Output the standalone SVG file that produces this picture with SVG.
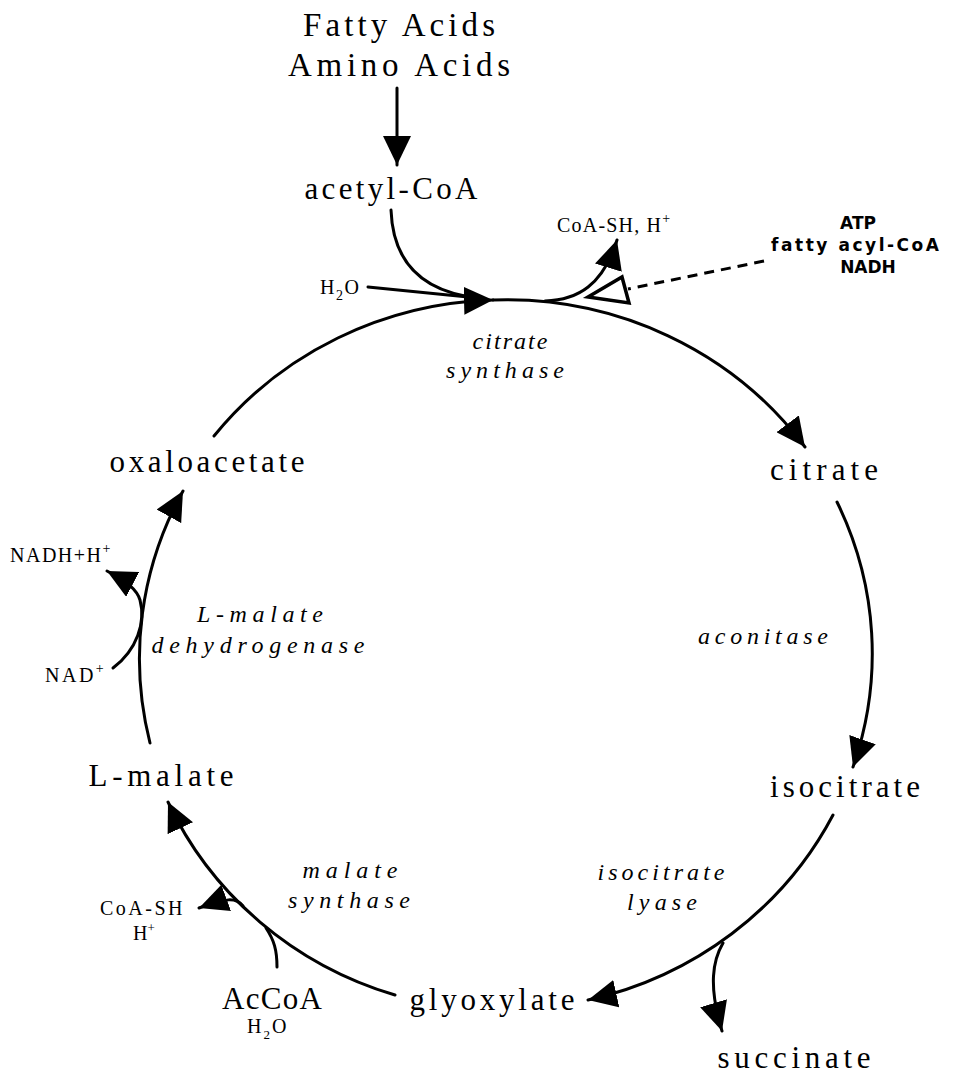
<svg xmlns="http://www.w3.org/2000/svg" width="969" height="1077" viewBox="0 0 969 1077">
  <style>
    .line { fill: none; stroke: #000; stroke-width: 3; stroke-linecap: round; }
    .dash { fill: none; stroke: #000; stroke-width: 3; stroke-dasharray: 10 7; }
    .main { font-family: "Liberation Serif", "Times New Roman", serif; font-size: 31px; fill: #000; text-anchor: middle; }
    .top { font-family: "Liberation Serif", "Times New Roman", serif; font-size: 33px; fill: #000; text-anchor: middle; }
    .enz { font-family: "Liberation Serif", "Times New Roman", serif; font-size: 24px; font-style: italic; fill: #000; text-anchor: middle; }
    .small { font-family: "Liberation Serif", "Times New Roman", serif; font-size: 20px; fill: #000; }
    .reg { font-family: "DejaVu Sans", "Liberation Sans", sans-serif; font-size: 17px; font-weight: bold; fill: #000; text-anchor: middle; }
  </style>
  <defs>
    <marker id="head" markerUnits="userSpaceOnUse" markerWidth="32" markerHeight="28" refX="29" refY="14" orient="auto">
      <path d="M0,0 L29,14 L0,28 z" fill="#000"/>
    </marker>
  </defs>

  <rect width="969" height="1077" fill="#fff"/>

  <!-- connectors -->
  <g id="connectors">
    <!-- feed into acetyl-CoA -->
    <path class="line" d="M397,88 L397,165" marker-end="url(#head)"/>
    <!-- acetyl-CoA and water join the condensation -->
    <path class="line" d="M391,210 C393,265 425,292 478,298"/>
    <path class="line" d="M368,287 L478,298"/>
    <!-- oxaloacetate -> citrate synthase -->
    <path class="line" d="M214,436 A368,355 0 0 1 493,300" marker-end="url(#head)"/>
    <!-- citrate synthase -> citrate -->
    <path class="line" d="M493,300 A368,355 0 0 1 805,447" marker-end="url(#head)"/>
    <!-- CoA-SH, H+ released -->
    <path class="line" d="M545,301 C578,300 603,285 617,240" marker-end="url(#head)"/>
    <!-- allosteric inhibitors (dashed, open head) -->
    <path class="dash" d="M764,261 L628,289"/>
    <polygon points="588,297 622,277 629,303" fill="#fff" stroke="#000" stroke-width="3.5" stroke-linejoin="miter"/>
    <!-- citrate -> isocitrate -->
    <path class="line" d="M837,502 A368,355 0 0 1 853,767" marker-end="url(#head)"/>
    <!-- isocitrate -> glyoxylate -->
    <path class="line" d="M833,815 A368,355 0 0 1 588,1000" marker-end="url(#head)"/>
    <!-- isocitrate lyase -> succinate -->
    <path class="line" d="M723,943 C713,960 708,985 722,1031" marker-end="url(#head)"/>
    <!-- glyoxylate -> L-malate -->
    <path class="line" d="M395,995 A368,355 0 0 1 168,802" marker-end="url(#head)"/>
    <!-- malate synthase side reactions -->
    <path class="line" d="M243,906 C236,897 226,898 199,908" marker-end="url(#head)"/>
    <path class="line" d="M277,967 C277,950 274,940 266,928"/>
    <!-- L-malate -> oxaloacetate -->
    <path class="line" d="M150,743 A368,355 0 0 1 183,491" marker-end="url(#head)"/>
    <!-- NAD+ -> NADH+H+ -->
    <path class="line" d="M113,668 C137,650 146,622 140,600 C137,590 128,582 107,571" marker-end="url(#head)"/>
  </g>

  <!-- nodes -->
  <g id="fatty-amino">
    <text class="top" x="399" y="36" textLength="192" lengthAdjust="spacing">Fatty Acids</text>
    <text class="top" x="399" y="76" textLength="222" lengthAdjust="spacing">Amino Acids</text>
  </g>
  <g id="acetyl-coa">
    <text class="main" x="391" y="199" textLength="173" lengthAdjust="spacing">acetyl-CoA</text>
  </g>
  <g id="coash-top">
    <text class="small" x="557" y="232" font-size="21" letter-spacing="1.2">CoA-SH, H<tspan font-size="14" dy="-9">+</tspan></text>
  </g>
  <g id="water-top">
    <text class="small" x="320" y="294" font-size="21" letter-spacing="1.5">H<tspan font-size="14" dy="6">2</tspan><tspan dy="-6">O</tspan></text>
  </g>
  <g id="regulators">
    <text class="reg" x="858" y="229">ATP</text>
    <text class="reg" x="855" y="251" textLength="168" lengthAdjust="spacing">fatty acyl-CoA</text>
    <text class="reg" x="868" y="273">NADH</text>
  </g>
  <g id="citrate-synthase">
    <text class="enz" x="510" y="349" textLength="75" lengthAdjust="spacing">citrate</text>
    <text class="enz" x="505" y="378" textLength="118" lengthAdjust="spacing">synthase</text>
  </g>
  <g id="oxaloacetate">
    <text class="main" x="207" y="472" textLength="195" lengthAdjust="spacing">oxaloacetate</text>
  </g>
  <g id="citrate">
    <text class="main" x="824" y="480" textLength="108" lengthAdjust="spacing">citrate</text>
  </g>
  <g id="nadh">
    <text class="small" x="10" y="562" letter-spacing="1.5">NADH+H<tspan font-size="14" dy="-9">+</tspan></text>
  </g>
  <g id="malate-dehydrogenase">
    <text class="enz" x="260" y="622" textLength="126" lengthAdjust="spacing">L-malate</text>
    <text class="enz" x="258" y="653" textLength="213" lengthAdjust="spacing">dehydrogenase</text>
  </g>
  <g id="aconitase">
    <text class="enz" x="763" y="644" textLength="130" lengthAdjust="spacing">aconitase</text>
  </g>
  <g id="nad">
    <text class="small" x="45" y="682" letter-spacing="2.5">NAD<tspan font-size="14" dy="-9">+</tspan></text>
  </g>
  <g id="l-malate">
    <text class="main" x="161" y="786" textLength="145" lengthAdjust="spacing">L-malate</text>
  </g>
  <g id="isocitrate">
    <text class="main" x="845" y="797" textLength="150" lengthAdjust="spacing">isocitrate</text>
  </g>
  <g id="malate-synthase">
    <text class="enz" x="350" y="878" textLength="95" lengthAdjust="spacing">malate</text>
    <text class="enz" x="349" y="908" textLength="122" lengthAdjust="spacing">synthase</text>
  </g>
  <g id="isocitrate-lyase">
    <text class="enz" x="661" y="880" textLength="127" lengthAdjust="spacing">isocitrate</text>
    <text class="enz" x="662" y="910" textLength="70" lengthAdjust="spacing">lyase</text>
  </g>
  <g id="coash-bottom">
    <text class="small" x="100" y="915" font-size="19" letter-spacing="2.5">CoA-SH</text>
    <text class="small" x="133" y="940" font-size="19">H<tspan font-size="13" dy="-8">+</tspan></text>
  </g>
  <g id="accoa">
    <text class="main" x="272" y="1009" font-size="29" textLength="100" lengthAdjust="spacing">AcCoA</text>
    <text class="small" x="247" y="1033" font-size="19" letter-spacing="2">H<tspan font-size="13" dy="6">2</tspan><tspan dy="-6">O</tspan></text>
  </g>
  <g id="glyoxylate">
    <text class="main" x="492" y="1010" textLength="165" lengthAdjust="spacing">glyoxylate</text>
  </g>
  <g id="succinate">
    <text class="main" x="794" y="1068" textLength="153" lengthAdjust="spacing">succinate</text>
  </g>
</svg>
